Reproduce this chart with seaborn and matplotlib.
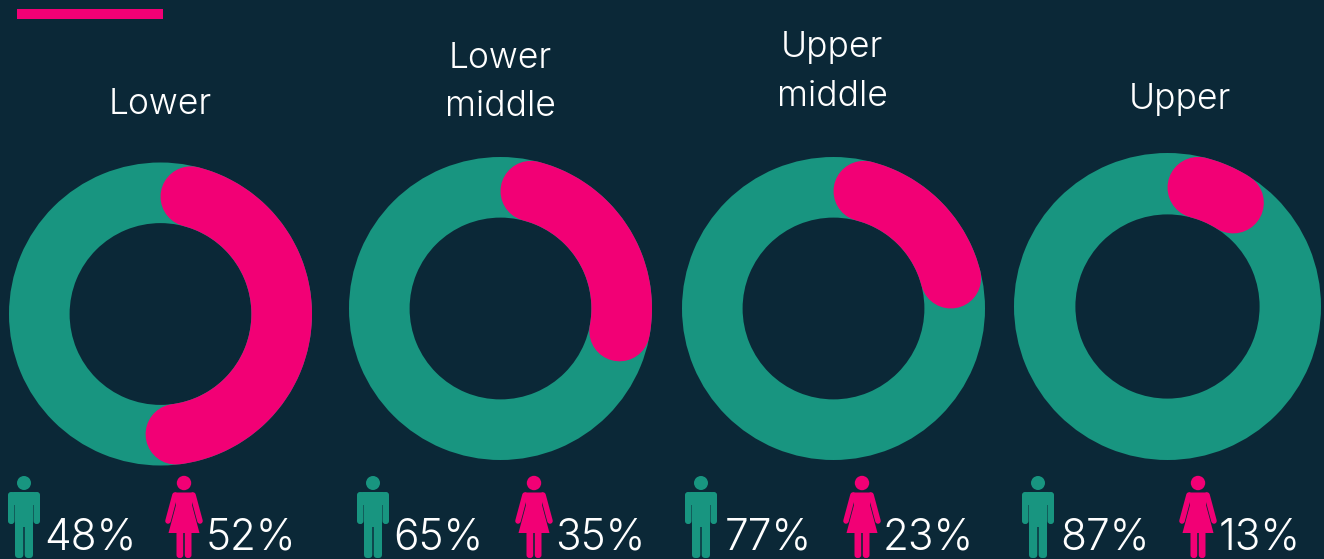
import numpy as np
import matplotlib.pyplot as plt
from matplotlib.patches import Circle, FancyBboxPatch, Polygon, Rectangle
import seaborn as sns

BG = "#0B2837"
TEAL = "#189580"
PINK = "#F20075"

groups = [["Lower"], ["Lower", "middle"], ["Upper", "middle"], ["Upper"]]
men_pct = [48, 65, 77, 87]
women_pct = [52, 35, 23, 13]
# the pink arcs are not quite what the labels say, read from the drawn rings
arc_pct = [52, 32, 25, 13]

# layout, in pixels from the top left corner
ring_x = [160.5, 500.5, 833.5, 1167.5]
ring_y = [314, 308.5, 308.5, 306.5]
ring_r = [151.5, 151.5, 151.5, 153.5]
title_x = [160, 500, 832, 1180]
title_y = [[104], [58, 106], [48, 96], [100]]
man_x = [24, 373, 701, 1038]
woman_x = [184, 534, 862, 1198]
man_text_x = [44, 393, 725, 1060]
woman_text_x = [206, 555, 883, 1219]

sns.set_theme(style="white", rc={"figure.facecolor": BG, "axes.facecolor": BG})
plt.rcParams["font.family"] = ["Inter", "DejaVu Sans"]


def rounded(ax, x0, y0, x1, y1, color, rad=3):
    box = FancyBboxPatch(
        (x0 + rad, y0 + rad),
        x1 - x0 - 2 * rad,
        y1 - y0 - 2 * rad,
        boxstyle=f"round,pad={rad},rounding_size={rad}",
        fc=color,
        ec="none",
    )
    ax.add_patch(box)


def draw_man(ax, cx, color=TEAL):
    ax.add_patch(Circle((cx, 483), 7, fc=color, ec="none"))
    # shoulders with both arms, then torso and legs
    rounded(ax, cx - 16, 492, cx - 9.5, 524, color)
    rounded(ax, cx + 9.5, 492, cx + 16, 524, color)
    rounded(ax, cx - 16, 492, cx + 16, 505, color, rad=6)
    ax.add_patch(Rectangle((cx - 9, 497), 18, 30, fc=color, ec="none"))
    rounded(ax, cx - 9, 515, cx - 0.7, 558, color, rad=3.5)
    rounded(ax, cx + 0.7, 515, cx + 9, 558, color, rad=3.5)


def draw_woman(ax, cx, color=PINK):
    ax.add_patch(Circle((cx, 483), 7.2, fc=color, ec="none"))
    dress = [
        (cx - 9, 492.5),
        (cx + 9, 492.5),
        (cx + 8, 505),
        (cx + 15.5, 533),
        (cx - 15.5, 533),
        (cx - 8, 505),
    ]
    ax.add_patch(Polygon(dress, fc=color, ec="none"))
    # arms are short thick lines
    for side in [-1, 1]:
        ax.plot(
            [cx + side * 9, cx + side * 16],
            [495, 521],
            color=color,
            lw=4,
            solid_capstyle="round",
        )
    rounded(ax, cx - 7.5, 528, cx - 0.8, 558, color)
    rounded(ax, cx + 0.8, 528, cx + 7.5, 558, color)


fig = plt.figure(figsize=(13.24, 5.59), dpi=100)
ax = fig.add_axes([0, 0, 1, 1])

for i in range(len(groups)):
    r = ring_r[i]
    ax.pie(
        [1],
        colors=[TEAL],
        center=(ring_x[i], ring_y[i]),
        radius=r,
        wedgeprops={"width": r * 0.4, "linewidth": 0},
    )
    # pink arc with round caps; the caps sit inside the share of the circle
    mid = r * 0.8
    cap = np.arcsin(r * 0.2 / mid)
    angle = np.linspace(cap, np.radians(arc_pct[i] * 3.6) - cap, 120)
    sns.lineplot(
        x=ring_x[i] + mid * np.sin(angle),
        y=ring_y[i] - mid * np.cos(angle),
        sort=False,
        estimator=None,
        color=PINK,
        linewidth=r * 0.4 * 0.72,
        solid_capstyle="round",
        ax=ax,
    )
    for line, y in zip(groups[i], title_y[i]):
        ax.text(title_x[i], y, line, color="white", fontsize=25.5, fontweight=300, ha="center", va="center")
    draw_man(ax, man_x[i])
    draw_woman(ax, woman_x[i])
    ax.text(man_text_x[i], 550, f"{men_pct[i]}%", color="white", fontsize=30.5, fontweight=300, va="baseline")
    ax.text(woman_text_x[i], 550, f"{women_pct[i]}%", color="white", fontsize=30.5, fontweight=300, va="baseline")

ax.add_patch(Rectangle((17, 9), 146, 10, fc=PINK, ec="none"))

ax.set_aspect("auto")
ax.set_xlim(0, 1324)
ax.set_ylim(559, 0)
ax.axis("off")

plt.savefig("out.png", dpi=100, facecolor=BG)
plt.close()
